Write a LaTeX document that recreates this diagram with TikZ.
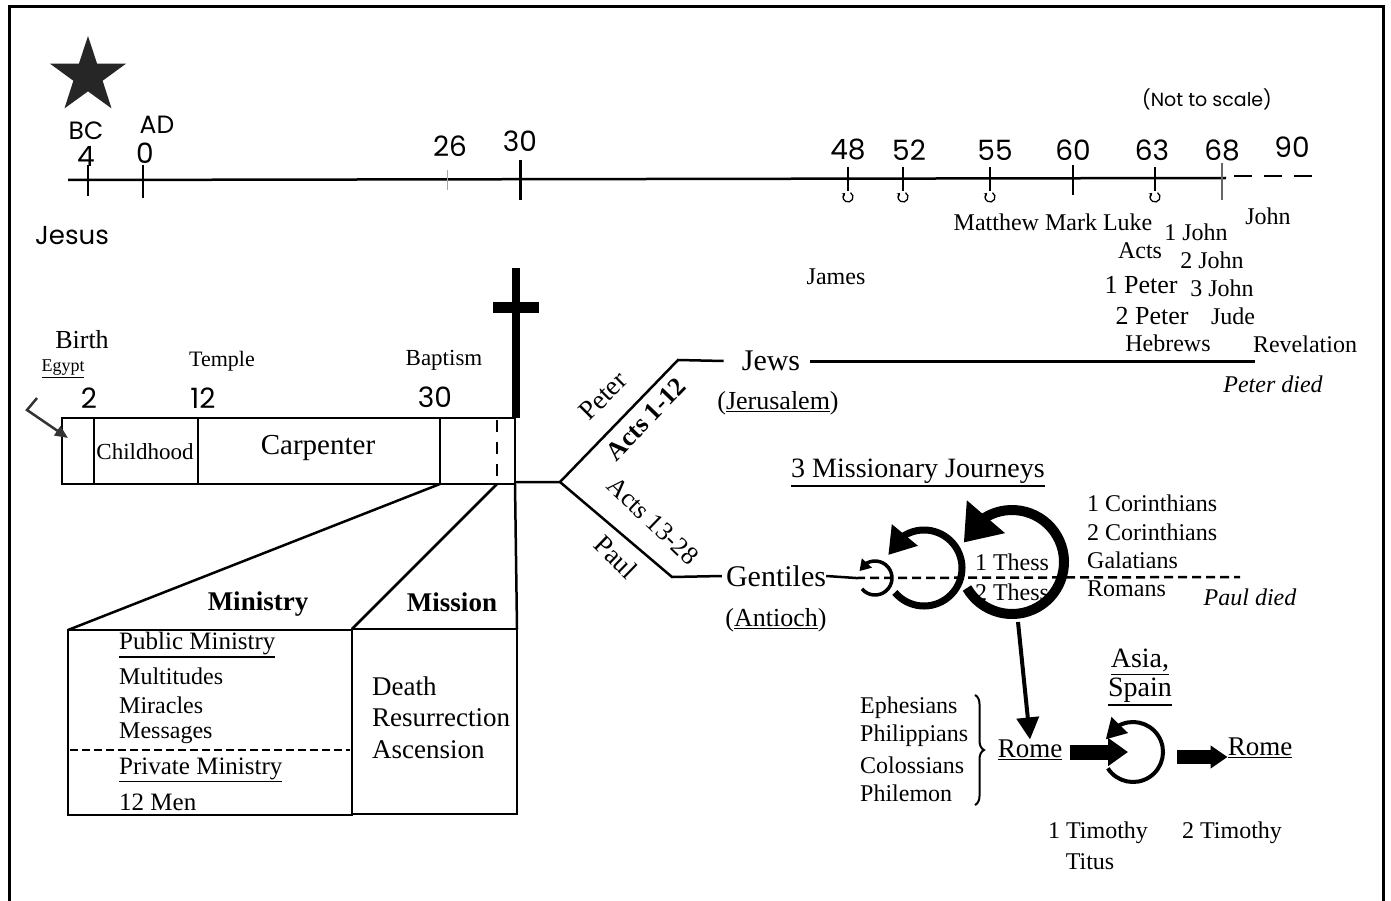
\documentclass[tikz,border=0pt]{standalone}
\usepackage{fontspec}
\setmainfont{Liberation Serif}
\newfontfamily\gothic{Poppins}
\usetikzlibrary{arrows.meta,bending,shapes.geometric,decorations.pathreplacing}
\newcommand{\fsz}[1]{\fontsize{#1}{#1}\selectfont}
\newcommand{\undl}[1]{\vtop{\hbox{#1}\kern1.5pt\hrule height 1.3pt}}

\begin{document}
\begin{tikzpicture}[x=1pt, y=-1pt,
    lbl/.style={inner sep=0pt, font=\fsz{24}},
    num/.style={inner sep=0pt, font=\gothic\fsz{28}},
    rule/.style={line width=2.5pt},
    journey/.style={line width=#1, line cap=butt},
    blockarrow/.style={line width=#1}
]
    \useasboundingbox (0,0) rectangle (1391,901);
    \draw[line width=3pt] (9,7) rectangle (1383,930);

    % time line
    \node[star, star points=5, star point ratio=2.6, fill=black!85, inner sep=0pt, minimum size=80pt] (star) at (88,76) {};
    \node[num, font=\gothic\fsz{25}] (bc) at (86,131) {BC};
    \node[num, font=\gothic\fsz{25}] (ad) at (157,125) {AD};
    \node[num] (y4) at (86,156) {4};
    \node[num] (y0) at (145,153) {0};
    \node[num, font=\gothic\fsz{26}] (jesus) at (72,236) {Jesus};
    \node[num] (y26) at (450,146) {26};
    \node[num] (y30) at (520,141) {30};
    \node[num] (y48) at (848,150) {48};
    \node[num] (y52) at (909,150) {52};
    \node[num] (y55) at (995,150) {55};
    \node[num] (y60) at (1073,150) {60};
    \node[num] (y63) at (1152,150) {63};
    \node[num] (y68) at (1222,150) {68};
    \node[num] (y90) at (1292,147) {90};
    \node[num, font=\gothic\fsz{19}] (notscale) at (1207,99) {(Not to scale)};

    \coordinate (tstart) at (68,180);
    \coordinate (tend) at (1226,178);
    \draw[rule] (tstart) -- (tend);
    \draw[rule, dash pattern=on 18pt off 12pt] (1234,176) -- (1318,176);
    \draw[rule] (88,165) -- (88,196);
    \draw[rule] (143,165) -- (143,198);
    \draw[line width=1pt, black!35] (447,170) -- (447,190);
    \draw[line width=3pt] (520,160) -- (520,200);
    \draw[line width=1.5pt] (1073,165) -- (1073,195);
    \draw[line width=1.5pt, black!60] (1222,163) -- (1222,200);
    \foreach \yr in {848,903,990,1155} {
        \draw[line width=1.3pt] (\yr,167) -- (\yr,191);
        \draw[line width=1.3pt, -{Stealth[length=3pt,width=4pt]}] (\yr,197) ++(-60:5) arc[start angle=-60, end angle=235, radius=5];
    }

    % books
    \node[lbl] (gospels) at (1053,222) {Matthew Mark Luke};
    \node[lbl] (john1) at (1196,232) {1 John};
    \node[lbl] (john) at (1268,216) {John};
    \node[lbl] (acts) at (1140,251) {Acts};
    \node[lbl] (john2) at (1212,260) {2 John};
    \node[lbl] (james) at (836,277) {James};
    \node[lbl, font=\fsz{26}] (peter1) at (1141,285) {1 Peter};
    \node[lbl] (john3) at (1222,288) {3 John};
    \node[lbl, font=\fsz{26}] (peter2) at (1152,316) {2 Peter};
    \node[lbl] (jude) at (1233,316) {Jude};
    \node[lbl] (hebrews) at (1168,343) {Hebrews};
    \node[lbl] (revelation) at (1305,344) {Revelation};
    \node[lbl, font=\itshape\fsz{24}] (peterdied) at (1273,384) {Peter died};

    % life of Jesus
    \fill (512,268) rectangle (520,418);
    \fill (493,302) rectangle (539,313);
    \draw[rule] (62,418) rectangle (515,484);
    \draw[rule] (94,418) -- (94,484);
    \draw[rule] (198,418) -- (198,484);
    \draw[rule] (440,418) -- (440,484);
    \draw[rule, dash pattern=on 12pt off 10pt] (497,420) -- (497,482);
    \node[lbl, font=\fsz{26}] (birth) at (82,340) {Birth};
    \node[lbl, font=\fsz{18}] (egypt) at (63,369) {\undl{Egypt}};
    \node[num] (age2) at (89,398) {2};
    \node[lbl, font=\fsz{22}] (temple) at (222,361) {Temple};
    \node[num] (age12) at (203,398) {12};
    \node[lbl, font=\fsz{23}] (baptism) at (444,360) {Baptism};
    \node[num] (age30) at (435,397) {30};
    \node[lbl, font=\fsz{23}] (childhood) at (145,452) {Childhood};
    \node[lbl, font=\fsz{29}] (carpenter) at (318,448) {Carpenter};
    \coordinate (flight) at (68,438);
    \draw[rule, black!80, -{Triangle[length=13pt,width=11pt]}] (37,398) -- (27,410) -- (flight);

    % ministry and mission
    \coordinate (ministart) at (440,484);
    \coordinate (missstart) at (497,484);
    \draw[rule] (ministart) -- (68,630);
    \draw[rule] (missstart) -- (352,629);
    \draw[rule] (515,484) -- (517,629);
    \draw[rule] (68,630) rectangle (352,815);
    \draw[rule] (352,629) rectangle (517,814);
    \draw[rule, dash pattern=on 8pt off 4pt] (70,750) -- (350,750);
    \node[lbl, font=\bfseries\fsz{27}] (ministry) at (258,604) {Ministry};
    \node[lbl, font=\bfseries\fsz{27}] (mission) at (452,602) {Mission};
    \node[lbl, font=\fsz{25}, anchor=west] (public) at (119,645) {\undl{Public Ministry}};
    \node[lbl, anchor=west] (multitudes) at (119,676) {Multitudes};
    \node[lbl, anchor=west] (miracles) at (119,705) {Miracles};
    \node[lbl, anchor=west] (messages) at (119,733) {Messages};
    \node[lbl, font=\fsz{25}, anchor=west] (private) at (119,770) {\undl{Private Ministry}};
    \node[lbl, font=\fsz{25}, anchor=west] (twelve) at (119,802) {12 Men};
    \node[lbl, font=\fsz{27}, anchor=west] (death) at (372,686) {Death};
    \node[lbl, font=\fsz{27}, anchor=west] (resurrection) at (372,718) {Resurrection};
    \node[lbl, font=\fsz{27}, anchor=west] (ascension) at (372,750) {Ascension};

    % Peter and Paul
    \coordinate (boxend) at (515,482);
    \coordinate (fork) at (560,482);
    \coordinate (jbend) at (678,360);
    \coordinate (gbend) at (672,577);
    \node[lbl, font=\fsz{30}] (jews) at (771,361) {Jews};
    \node[lbl, font=\fsz{30}] (gentiles) at (776,576) {Gentiles};
    \coordinate (jewsend) at (1255,361);
    \coordinate (gentend) at (1240,577);
    \draw[rule] (boxend) -- (fork) -- (jbend) -- ([xshift=-18pt]jews.west);
    \draw[rule] (fork) -- (gbend) -- ([xshift=-4pt]gentiles.west);
    \draw[line width=3pt] ([xshift=10pt]jews.east) -- (jewsend);
    \draw[rule] (gentiles.east) -- (856,578);
    \draw[rule, dash pattern=on 9pt off 5pt] (856,578) -- (gentend);
    \node[lbl, font=\fsz{27}, rotate=45] (peter) at (603,396) {Peter};
    \node[lbl, font=\bfseries\fsz{26}, rotate=46] (acts112) at (646,419) {Acts 1-12};
    \node[lbl, font=\fsz{26}, rotate=-44] (acts1328) at (653,521) {Acts 13-28};
    \node[lbl, font=\fsz{27}, rotate=-44] (paul) at (616,557) {Paul};
    \node[lbl, font=\fsz{26}] (jerusalem) at (778,403) {(\undl{Jerusalem})};
    \node[lbl, font=\fsz{26}] (antioch) at (776,620) {(\undl{Antioch})};
    \node[lbl, font=\fsz{28}] (journeys) at (918,473) {\undl{3 Missionary Journeys}};

    % three journeys
    \draw[journey=3.5pt, -{Triangle[length=11pt,width=13pt]}] (875,578) ++(140:17) arc[start angle=140, end angle=-156, radius=17];
    \draw[journey=7pt, -{Triangle[length=26pt,width=32pt]}] (924,568) ++(140:38) arc[start angle=140, end angle=-160, radius=38];
    \draw[journey=10pt, -{Triangle[length=34pt,width=48pt]}] (1012,562) ++(150:52) arc[start angle=150, end angle=-158, radius=52];
    \node[lbl] (thess1) at (1012,562) {1 Thess};
    \node[lbl] (thess2) at (1012,592) {2 Thess};
    \node[lbl, anchor=west] (cor1) at (1087,503) {1 Corinthians};
    \node[lbl, anchor=west] (cor2) at (1087,532) {2 Corinthians};
    \node[lbl, anchor=west] (galatians) at (1087,560) {Galatians};
    \node[lbl, anchor=west] (romans) at (1087,589) {Romans};
    \node[lbl, font=\itshape\fsz{24}] (pauldied) at (1250,597) {Paul died};

    % Rome
    \coordinate (bigout) at (1018,622);
    \node[lbl, font=\fsz{27}] (rome1) at (1030,750) {\undl{Rome}};
    \draw[line width=4pt, -{Triangle[length=22pt,width=22pt]}] (bigout) -- (rome1.north);
    \node[lbl, anchor=west] (ephesians) at (860,708) {Ephesians};
    \node[lbl, anchor=west] (philippians) at (860,736) {Philippians};
    \node[lbl, anchor=west] (colossians) at (860,765) {Colossians};
    \node[lbl, anchor=west] (philemon) at (860,793) {Philemon};
    \draw[line width=2pt, decorate, decoration={brace, amplitude=9pt}] (975,695) -- (975,805);
    \coordinate (hub) at (1133,752);
    \draw[blockarrow=15pt, -{Triangle[length=20pt,width=27pt]}, shorten <=8pt] (rome1.east |- hub) -- ([xshift=-5pt]hub);
    \draw[journey=4pt, -{Triangle[length=20pt,width=22pt]}] (hub) ++(147:30) arc[start angle=147, end angle=-155, radius=30];
    \node[lbl, font=\fsz{28}] (asia) at (1140,662) {\undl{Asia,}};
    \node[lbl, font=\fsz{28}] (spain) at (1140,692) {\undl{Spain}};
    \node[lbl, font=\fsz{27}] (rome2) at (1260,748) {\undl{Rome}};
    \coordinate (spainout) at (1177,757);
    \draw[blockarrow=14pt, -{Triangle[length=17pt,width=22pt]}] (spainout) -- (spainout -| rome2.west);
    \node[lbl] (tim1) at (1098,833) {1 Timothy};
    \node[lbl] (titus) at (1090,862) {Titus};
    \node[lbl] (tim2) at (1232,833) {2 Timothy};
\end{tikzpicture}
\end{document}
